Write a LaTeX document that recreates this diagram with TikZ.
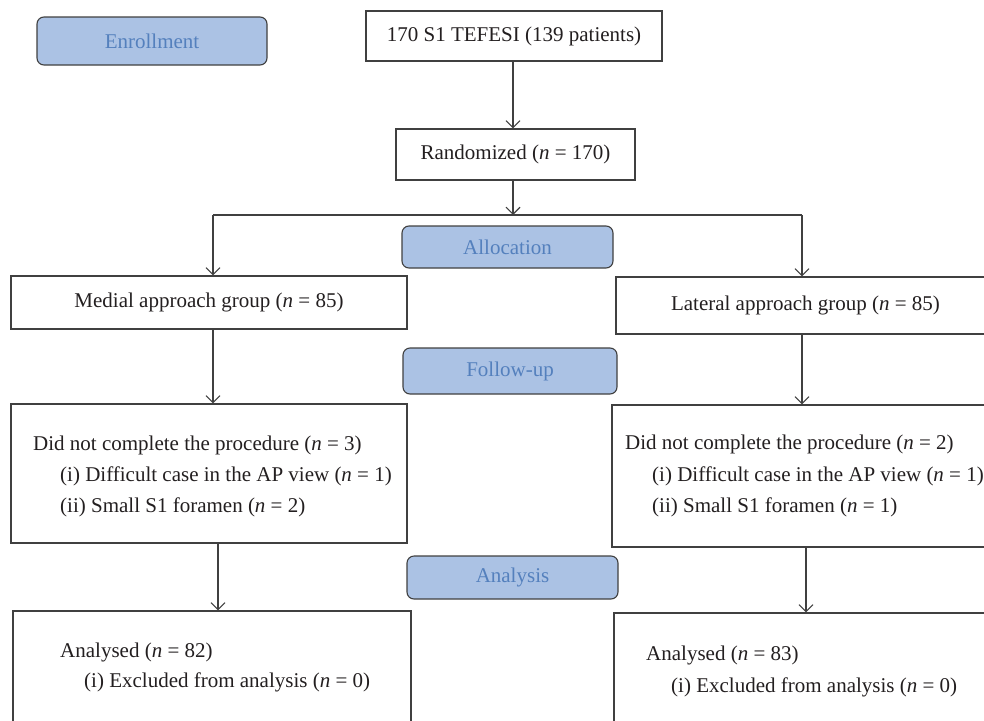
\documentclass[tikz,border=0pt]{standalone}
\usepackage{fontspec}
\setmainfont{Liberation Serif}
\usetikzlibrary{arrows.meta}
\definecolor{labfill}{RGB}{171,194,228}
\definecolor{labtext}{RGB}{84,128,189}
\definecolor{edgec}{RGB}{64,64,64}
\definecolor{inkc}{RGB}{35,31,32}
\begin{document}
\begin{tikzpicture}[x=1pt,y=-1pt,
  every node/.style={font=\fontsize{21}{25}\selectfont, text=inkc},
  box/.style={draw=edgec, line width=1.1pt, inner sep=0pt, fill=white},
  phase/.style={draw=edgec, line width=1.1pt, fill=labfill, rounded corners=7pt, text=labtext, inner sep=0pt},
  txt/.style={anchor=base west, inner sep=0pt},
  conn/.style={draw=edgec, line width=1.1pt},
  arr/.style={conn, -{Straight Barb[length=7pt,width=14pt,line width=1.1pt]}}]
\useasboundingbox (0,0) rectangle (984,720);
\clip (0,0) rectangle (984,720);
% phase labels
\node[phase, minimum width=230pt, minimum height=48pt] (enroll) at (152,41) {Enrollment};
\node[phase, minimum width=211pt, minimum height=42pt] (alloc) at (507.5,247) {Allocation};
\node[phase, minimum width=214pt, minimum height=46pt] (follow) at (510,371) {Follow-up};
\node[phase, minimum width=211pt, minimum height=43pt] (analysis) at (512.5,577.5) {Analysis};
% boxes
\node[box, minimum width=296pt, minimum height=50pt] (top) at (514,36) {170 S1 TEFESI (139 patients)};
\node[box, minimum width=239pt, minimum height=51pt] (rand) at (515.5,154.5) {Randomized (\textit{n} = 170)};
\node[box, minimum width=396pt, minimum height=53pt] (medial) at (209,302.5) {Medial approach group (\textit{n} = 85)};
\node[box, minimum width=379pt, minimum height=57pt] (lateral) at (805.5,305.5) {Lateral approach group (\textit{n} = 85)};
\node[box, minimum width=396pt, minimum height=139pt] (dncL) at (209,473.5) {};
\node[box, minimum width=383pt, minimum height=142pt] (dncR) at (803.5,476) {};
\node[box, minimum width=398pt, minimum height=140pt] (anaL) at (212,681) {};
\node[box, minimum width=381pt, minimum height=140pt] (anaR) at (804.5,683) {};
% box texts
\node[txt] (dncL1) at (33,450) {Did not complete the procedure (\textit{n} = 3)};
\node[txt] (dncL2) at (60,481.5) {(i) Difficult case in the AP view (\textit{n} = 1)};
\node[txt] (dncL3) at (60,512) {(ii) Small S1 foramen (\textit{n} = 2)};
\node[txt] (dncR1) at (625,449) {Did not complete the procedure (\textit{n} = 2)};
\node[txt] (dncR2) at (652,481.5) {(i) Difficult case in the AP view (\textit{n} = 1)};
\node[txt] (dncR3) at (652,512) {(ii) Small S1 foramen (\textit{n} = 1)};
\node[txt] (anaL1) at (60,657) {Analysed (\textit{n} = 82)};
\node[txt] (anaL2) at (84,687) {(i) Excluded from analysis (\textit{n} = 0)};
\node[txt] (anaR1) at (646,660) {Analysed (\textit{n} = 83)};
\node[txt] (anaR2) at (671,692) {(i) Excluded from analysis (\textit{n} = 0)};
% connectors
\coordinate (j) at (513,215);
\coordinate (jl) at (213,215);
\coordinate (jr) at (802,215);
\coordinate (cl) at (218,600);
\coordinate (cr) at (806,600);
\draw[arr] (top.south -| j) -- (rand.north -| j);
\draw[arr] (rand.south -| j) -- (j);
\draw[conn] (jl) -- (jr);
\draw[arr] (jl) -- (medial.north -| jl);
\draw[arr] (jr) -- (lateral.north -| jr);
\draw[arr] (medial.south -| jl) -- (dncL.north -| jl);
\draw[arr] (lateral.south -| jr) -- (dncR.north -| jr);
\draw[arr] (dncL.south -| cl) -- (anaL.north -| cl);
\draw[arr] (dncR.south -| cr) -- (anaR.north -| cr);
\end{tikzpicture}
\end{document}
